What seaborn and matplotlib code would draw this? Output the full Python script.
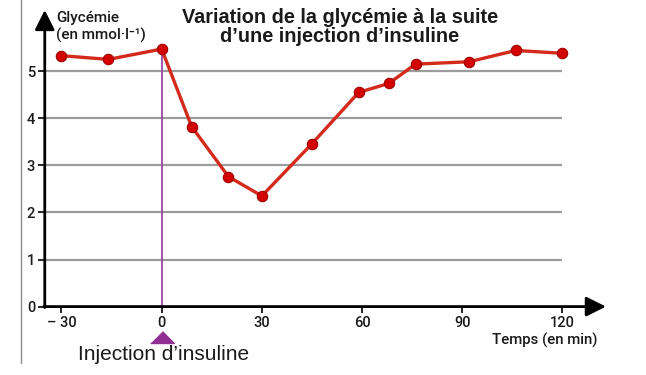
import matplotlib
matplotlib.use('Agg')
import matplotlib.pyplot as plt
import seaborn as sns
import pandas as pd
from matplotlib.lines import Line2D

# Data
temps = [-30, -16, 0, 9, 20, 30, 45, 59, 68, 76, 92, 106, 120]
glycemie = [5.33, 5.25, 5.47, 3.82, 2.76, 2.35, 3.46, 4.55, 4.74, 5.15, 5.20, 5.44, 5.38]
x_ticks = [-30, 0, 30, 60, 90, 120]
x_labels = ['– 30', '0', '30', '60', '90', '120']
y_ticks = [0, 1, 2, 3, 4, 5]
injection_time = 0

sns.set_theme(style='white')
plt.rcParams['font.family'] = ['Roboto', 'DejaVu Sans']
plt.rcParams['font.weight'] = 'medium'

fig = plt.figure(figsize=(6.46, 3.75), dpi=100, facecolor='white')
ax = fig.add_axes([0, 0, 1, 1])
ax.set_xlim(-48.4, 145.0)
ax.set_ylim(-1.453, 6.512)
ax.patch.set_alpha(0)

# horizontal guide lines
ax.hlines(y_ticks[1:], -35, 120, color='#9c9c9c', lw=1.6, zorder=1)

# injection marker
y_inj = glycemie[temps.index(injection_time)]
ax.vlines(injection_time, 0, y_inj, color='#9a4aa0', lw=1.3, zorder=3)
ax.plot([injection_time], [-0.78], marker=[(-1, 0), (1, 0), (0, 1)], markersize=17,
        color='#8e2f91', clip_on=False, zorder=3)

# the curve
df = pd.DataFrame({'temps': temps, 'glycemie': glycemie})
sns.lineplot(data=df, x='temps', y='glycemie', ax=ax, color='#d42a1c', lw=2.4,
             marker='o', markersize=7.5, markerfacecolor='#d40000',
             markeredgecolor='#9e0000', markeredgewidth=0.8, zorder=4)
ax.set_xlabel('')
ax.set_ylabel('')

# axes with arrows
for s in ['top', 'right', 'left', 'bottom']:
    ax.spines[s].set_visible(False)
ax.spines['left'].set_position(('data', -35))
ax.spines['bottom'].set_position(('data', 0))
arrow = dict(arrowstyle='-|>,head_length=0.6,head_width=0.3', lw=2.0, color='black',
             mutation_scale=20, shrinkA=0, shrinkB=0)
ax.annotate('', xy=(-35, 6.30), xytext=(-35, -0.02), arrowprops=arrow)
ax.annotate('', xy=(133, 0), xytext=(-35.3, 0), arrowprops=arrow)

ax.set_xticks(x_ticks, x_labels)
ax.set_yticks(y_ticks)
ax.tick_params(axis='x', bottom=True, direction='out', length=4, width=1.2,
               color='black', pad=3, labelsize=10.5, labelcolor='#1a1a1a')
ax.tick_params(axis='y', left=True, direction='out', length=5, width=1.2,
               color='black', pad=2, labelsize=10.5, labelcolor='#1a1a1a')

# texts
fig.text(340 / 646, 1 - 8 / 375, "Variation de la glycémie à la suite\nd’une injection d’insuline",
         ha='center', va='top', fontsize=14.3, fontweight='bold',
         family=['Liberation Sans', 'DejaVu Sans'], linespacing=0.98, color='#1a1a1a')
fig.text(56 / 646, 1 - 11 / 375, "Glycémie\n(en mmol·l⁻¹)", ha='left', va='top',
         fontsize=11, linespacing=1.2, color='#1a1a1a')
fig.text(164 / 646, 1 - 354 / 375, "Injection d’insuline", ha='center', va='center',
         fontsize=15, fontweight='normal', family=['Liberation Sans', 'DejaVu Sans'],
         color='#1a1a1a')
fig.text(597 / 646, 1 - 340 / 375, "Temps (en min)", ha='right', va='center',
         fontsize=10.8, color='#1a1a1a')

# thin border line on the left of the picture
fig.add_artist(Line2D([21 / 646, 21 / 646], [1, 1 - 363 / 375], transform=fig.transFigure,
                      color='#8a8a8a', lw=1))

fig.savefig('out.png', dpi=100)
